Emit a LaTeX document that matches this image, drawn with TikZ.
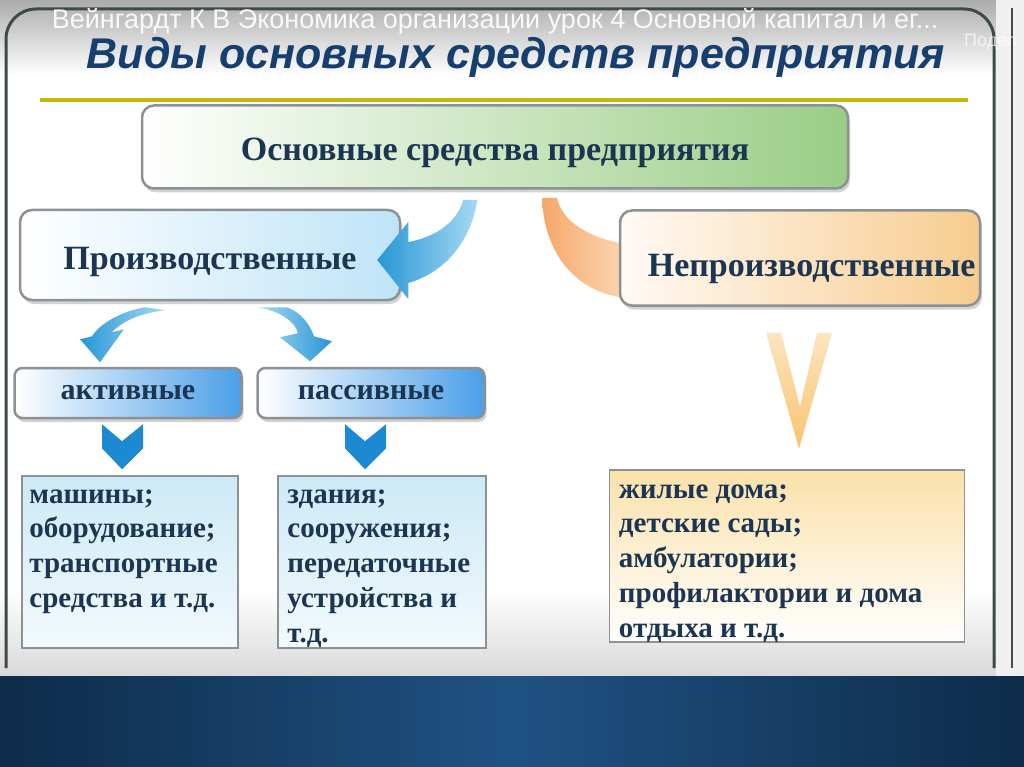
\documentclass[tikz,border=0pt]{standalone}
\usepackage{fontspec}
\setmainfont{Liberation Serif}
\newfontfamily\headfont{Liberation Sans}
\usetikzlibrary{shadows}

\definecolor{ink}{HTML}{1B3553}
\definecolor{titleblue}{HTML}{163F70}
\definecolor{boxline}{HTML}{8C9196}
\definecolor{greenR}{HTML}{9ACD85}
\definecolor{blueR}{HTML}{BFE4F7}
\definecolor{actR}{HTML}{4A9FE8}
\definecolor{orangeR}{HTML}{F7CC8E}
\definecolor{listblue}{HTML}{CDE9F6}
\definecolor{listorange}{HTML}{FBE1AA}
\definecolor{arrowblue}{HTML}{2797D6}
\definecolor{arrowlight}{HTML}{A6D9F2}
\definecolor{chevblue}{HTML}{1B8AD0}
\definecolor{orangeA}{HTML}{F5A86A}
\definecolor{orangeL}{HTML}{FCD6B2}
\definecolor{vorange}{HTML}{F8C46E}
\definecolor{navyd}{HTML}{0E2B4A}
\definecolor{navym}{HTML}{1F5284}
\definecolor{yline}{HTML}{C8B60A}
\definecolor{frameline}{HTML}{3E4B45}

\tikzset{
  rbox/.style={draw=boxline, line width=2.5pt, rounded corners=12pt, text=ink,
    drop shadow={opacity=0.35, shadow xshift=2pt, shadow yshift=-4pt}},
  lbox/.style={draw=boxline, line width=1.5pt, rectangle},
  ltext/.style={anchor=north west, align=left, text=ink, inner sep=0pt,
    font=\fontsize{29}{34.8}\selectfont\bfseries},
}

\begin{document}
\begin{tikzpicture}[x=1pt,y=-1pt]
  \clip (0,0) rectangle (1024,767);

  %screen background
  \fill[white] (0,0) rectangle (1024,676);
  \shade[top color=gray!65, bottom color=white] (0,0) rectangle (1024,75);
  \shade[top color=white, bottom color=gray!30] (0,590) rectangle (1024,676);
  \fill[gray!12] (996,0) rectangle (1024,676);
  \shade[left color=navyd, right color=navyd, middle color=navym] (0,676) rectangle (1024,767);

  %slide frame
  \draw[frameline, line width=3pt, rounded corners=30pt] (6,668) -- (6,9) -- (994,9) -- (994,668);
  \draw[gray!60!black, line width=1.2pt] (1012,8) -- (1012,668);

  %video overlay
  \node[text=white, opacity=0.9, font=\headfont\fontsize{27}{29}\selectfont] (video) at (495,21)
    {Вейнгардт К В Экономика организации урок 4 Основной капитал и ег...};
  \node[text=white, opacity=0.7, font=\headfont\fontsize{18}{20}\selectfont, anchor=west, inner sep=1pt] (share) at (963,42) {Подел};

  %title
  \node[text=titleblue, font=\headfont\fontsize{43}{48}\selectfont\bfseries\itshape] (title) at (516,57)
    {Виды основных средств предприятия};
  \draw[yline, line width=4pt] (40,100) -- (968,100);

  %boxes
  \node[rbox, minimum width=706pt, minimum height=83pt, left color=white, right color=greenR,
    font=\fontsize{34}{36}\selectfont\bfseries, text height=34pt] (main) at (495,147) {Основные средства предприятия};

  %orange arrow (behind the box)
  \begin{scope}[shift={(620,258)}]
    \shade[left color=orangeA, right color=orangeL]
      (-78,-60) .. controls (-76,-5) and (-45,34) .. (5,40) -- (5,-14)
      .. controls (-30,-20) and (-58,-36) .. (-63,-60) -- cycle;
  \end{scope}

  \node[rbox, minimum width=380pt, minimum height=90pt, left color=white, right color=blueR,
    font=\fontsize{34}{36}\selectfont\bfseries, text height=36pt] (prod) at (210,255) {Производственные};
  \node[rbox, minimum width=360pt, minimum height=95pt, left color=orange!4, right color=orangeR,
    font=\fontsize{34}{36}\selectfont\bfseries, text height=44pt, text width=351pt, align=right] (nonprod) at (800,258) {Непроизводственные};

  %blue arrow main -> prod
  \begin{scope}[shift={(prod.east)}]
    \shade[left color=arrowblue, right color=arrowlight]
      (62,-55) .. controls (55,-30) and (30,-17) .. (7,-13) -- (7,-33) -- (-24,5) -- (7,44)
      -- (7,28) .. controls (45,17) and (70,-15) .. (76,-55) -- cycle;
  \end{scope}

  %small arrows prod -> act, pas
  \begin{scope}[shift={(prod.south)}]
    \shade[left color=arrowblue, right color=arrowlight]
      (-65,6) .. controls (-88,10) and (-110,22) .. (-118,35) -- (-130,38) -- (-110,61) -- (-86,28)
      -- (-98,31) .. controls (-88,20) and (-70,12) .. (-45,9) -- cycle;
    \shade[left color=arrowlight, right color=arrowblue]
      (48,6) .. controls (70,10) and (85,20) .. (88,32) -- (70,36) -- (100,60) -- (122,40)
      -- (104,35) .. controls (98,18) and (85,8) .. (76,6) -- cycle;
  \end{scope}

  \node[rbox, rounded corners=8pt, minimum width=227pt, minimum height=50pt, left color=white, right color=actR,
    font=\fontsize{30}{32}\selectfont\bfseries] (act) at (128,393) {активные};
  \node[rbox, rounded corners=8pt, minimum width=227pt, minimum height=50pt, left color=white, right color=actR,
    font=\fontsize{30}{32}\selectfont\bfseries] (pas) at (371,393) {пассивные};

  %chevrons
  \foreach \b in {act,pas}{
    \fill[chevblue] ([shift={(-26,5)}]\b.south) -- ++(20,17) -- ++(21,-17) -- ++(0,24)
      -- ++(-21,21) -- ++(-20,-21) -- cycle;
  }
  \begin{scope}[shift={(nonprod.south)}]
    \shade[top color=vorange!45, bottom color=vorange]
      (-34,26) -- (-19,26) -- (0,100) -- (17,26) -- (32,26) -- (-1,142) -- cycle;
  \end{scope}

  %lists
  \node[lbox, minimum width=216pt, minimum height=172pt, top color=listblue, bottom color=listblue!25] (list1) at (130,562) {};
  \node[lbox, minimum width=208pt, minimum height=172pt, top color=listblue, bottom color=listblue!25] (list2) at (382,562) {};
  \node[lbox, minimum width=355pt, minimum height=172pt, top color=listorange, bottom color=white] (list3) at (787,556) {};

  \node[ltext] (text1) at ([xshift=8pt, yshift=-14pt]list1.north west)
    {машины;\\оборудование;\\транспортные\\средства и т.д.};
  \node[ltext] (text2) at ([xshift=10pt, yshift=-14pt]list2.north west)
    {здания;\\сооружения;\\передаточные\\устройства и\\т.д.};
  \node[ltext] (text3) at ([xshift=10pt, yshift=-15pt]list3.north west)
    {жилые дома;\\детские сады;\\амбулатории;\\профилактории и дома\\отдыха и т.д.};
\end{tikzpicture}
\end{document}
